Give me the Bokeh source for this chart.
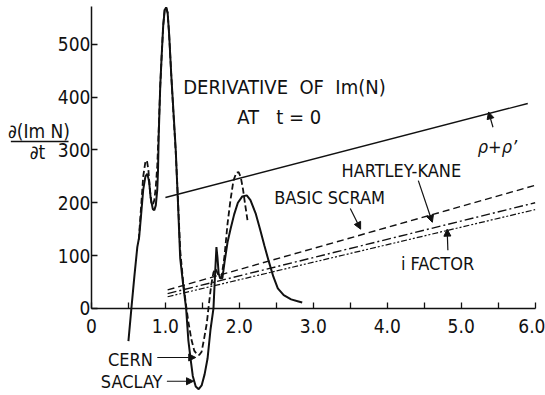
from bokeh.plotting import figure
from bokeh.models import Range1d, FixedTicker, Label, Arrow, NormalHead
from bokeh.embed import file_html
from bokeh.resources import INLINE

# ---- data ----
saclay_x = [0.50, 0.54, 0.58, 0.62, 0.645, 0.67, 0.70, 0.73, 0.755, 0.78, 0.80, 0.83, 0.85, 0.87,
            0.89, 0.90, 0.91, 0.93, 0.95, 0.97, 0.99, 1.01, 1.03, 1.05, 1.08, 1.11, 1.14, 1.17,
            1.20, 1.24, 1.28, 1.31, 1.34, 1.37, 1.41, 1.45, 1.49, 1.53, 1.57, 1.61, 1.65, 1.67,
            1.69, 1.705, 1.72, 1.74, 1.77, 1.80, 1.84, 1.88, 1.93, 1.98, 2.04, 2.10, 2.15, 2.22,
            2.28, 2.34, 2.40, 2.46, 2.52, 2.60, 2.70, 2.80, 2.85]
saclay_y = [-62, 0, 60, 116, 135, 175, 225, 250, 255, 240, 210, 188, 186, 195,
            225, 260, 330, 420, 480, 535, 565, 570, 560, 520, 440, 370, 299, 200,
            95, 45, 0, -60, -95, -128, -148, -153, -146, -125, -95, -40, 0, 60,
            116, 95, 66, 57, 57, 88, 125, 150, 178, 200, 212, 214, 205, 180,
            150, 118, 88, 60, 38, 25, 17, 13, 11]

cern_x = [0.64, 0.67, 0.70, 0.73, 0.75, 0.77, 0.79, 0.81, 0.83, 0.85, 0.87, 0.89, 0.91, 0.93,
          0.95, 0.97, 0.99, 1.01, 1.03, 1.05, 1.08, 1.11, 1.14, 1.17, 1.20, 1.24, 1.28, 1.31,
          1.35, 1.39, 1.43, 1.46, 1.49, 1.52, 1.56, 1.59, 1.62, 1.65, 1.68, 1.71, 1.74, 1.76,
          1.80, 1.84, 1.88, 1.92, 1.96, 1.99, 2.02, 2.05, 2.08, 2.11]
cern_y = [130, 190, 250, 278, 280, 262, 225, 200, 196, 205, 230, 270, 340, 420,
          480, 535, 565, 570, 560, 520, 440, 365, 295, 205, 110, 50, 5, -25,
          -58, -80, -88, -88, -82, -60, -28, 10, 45, 68, 75, 65, 58, 60,
          100, 160, 205, 242, 257, 258, 248, 225, 195, 167]

rho_x = [1.0, 5.9]
rho_y = [210, 388]
scram_x = [1.03, 6.0]
scram_y = [35, 233]
hk_x = [1.03, 6.0]
hk_y = [28, 200]
ifac_x = [1.03, 6.0]
ifac_y = [22, 187]

x_ticks = [0, 1, 2, 3, 4, 5, 6]
x_tick_labels = ["0", "1.0", "2.0", "3.0", "4.0", "5.0", "6.0"]
x_minor = [0.5, 1.5, 2.5, 3.5, 4.5, 5.5]
y_ticks = [0, 100, 200, 300, 400, 500]

FONT = "DejaVu Sans Condensed"
INK = "#111111"
NB = "\u00a0"

p = figure(width=545, height=395, output_backend="svg", toolbar_location=None,
           x_range=Range1d(-1.23, 6.14), y_range=Range1d(-165, 583),
           min_border=0, outline_line_color=None, background_fill_color="white")
p.grid.visible = False

# axes at data position 0
for ax in p.xaxis:
    ax.fixed_location = 0
    ax.bounds = (0, 6.0)
    ax.ticker = FixedTicker(ticks=x_ticks, minor_ticks=x_minor)
    ax.major_label_overrides = {t: s for t, s in zip(x_ticks, x_tick_labels)}
    ax.major_label_standoff = 11
for ax in p.yaxis:
    ax.fixed_location = 0
    ax.bounds = (0, 572)
    ax.ticker = FixedTicker(ticks=y_ticks, minor_ticks=[])
    ax.major_label_standoff = 1
for ax in list(p.xaxis) + list(p.yaxis):
    ax.axis_line_color = INK
    ax.axis_line_width = 1.5
    ax.major_tick_in = 6
    ax.major_tick_out = 0
    ax.minor_tick_in = 6
    ax.minor_tick_out = 0
    ax.major_tick_line_color = INK
    ax.minor_tick_line_color = INK
    ax.major_tick_line_width = 1.3
    ax.minor_tick_line_width = 1.3
    ax.major_label_text_font = FONT
    ax.major_label_text_font_size = "19px"
    ax.major_label_text_color = INK

# curves
p.line(saclay_x, saclay_y, line_color=INK, line_width=2)
p.line(cern_x, cern_y, line_color=INK, line_width=1.8, line_dash="6 3")
p.line(rho_x, rho_y, line_color=INK, line_width=1.4)
p.line(scram_x, scram_y, line_color=INK, line_width=1.4, line_dash="7 4")
p.line(hk_x, hk_y, line_color=INK, line_width=1.4, line_dash="9 3 2 3")
p.line(ifac_x, ifac_y, line_color=INK, line_width=1.2, line_dash="6 2 2 2 2 2")

def lab(x, y, t, align="center", size="18px", style="normal"):
    p.add_layout(Label(x=x, y=y, text=t, text_align=align, text_baseline="middle",
                       text_font=FONT, text_font_size=size, text_color=INK,
                       text_font_style=style))

lab(2.61, 420, "DERIVATIVE" + NB + " OF" + NB + " Im(N)", size="20px")
lab(2.54, 362, "AT" + NB + NB + " t" + NB + "=" + NB + "0", size="20px")
lab(5.49, 307, "ρ+ρ’", style="italic")
lab(4.19, 261, "HARTLEY-KANE")
lab(3.22, 210, "BASIC SCRAM")
lab(4.68, 85, "i FACTOR")
lab(0.83, -97, "CERN", align="right")
lab(0.96, -138, "SACLAY", align="right")

# y axis label as a fraction
lab(-0.71, 335, "∂(Im N)", size="19px")
lab(-0.73, 297, "∂t", size="19px")
p.line([-1.09, -0.31], [316, 316], line_color=INK, line_width=1.6)

def arr(x0, y0, x1, y1):
    p.add_layout(Arrow(x_start=x0, y_start=y0, x_end=x1, y_end=y1,
                       line_color=INK, line_width=1.2,
                       end=NormalHead(size=7, fill_color=INK, line_color=INK)))

arr(5.43, 343, 5.37, 372)
arr(4.42, 242, 4.61, 163)
arr(3.50, 189, 3.64, 150)
arr(4.82, 110, 4.81, 150)
arr(0.89, -93, 1.41, -93)
arr(1.02, -138, 1.38, -138)

open("out.html", "w").write(file_html(p, INLINE))
